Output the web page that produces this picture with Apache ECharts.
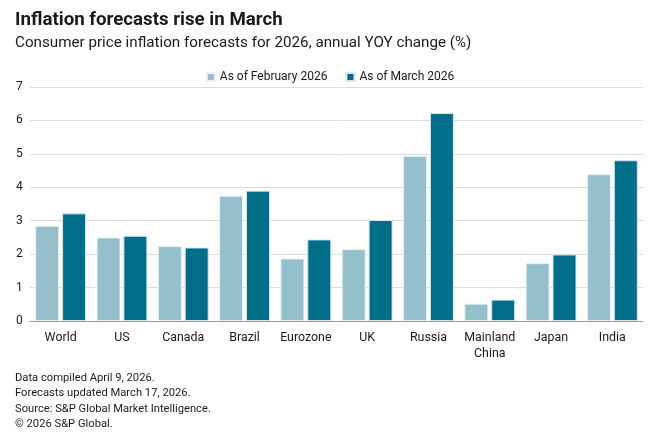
<!DOCTYPE html>
<html><head><meta charset="utf-8">
<script src="https://cdn.jsdelivr.net/npm/echarts@6/dist/echarts.min.js"></script>
<style>html,body{margin:0;padding:0;background:#fff}#c{width:660px;height:438px}</style>
</head><body><div id="c"></div>
<script>
const categories = ["World","US","Canada","Brazil","Eurozone","UK","Russia","Mainland\nChina","Japan","India"];
const febValues = [2.85,2.50,2.24,3.75,1.87,2.15,4.94,0.52,1.73,4.39];
const marValues = [3.22,2.55,2.20,3.90,2.44,3.02,6.22,0.64,1.99,4.81];
const seriesNames = ["As of February 2026","As of March 2026"];
const footnotes = ["Data compiled April 9, 2026.","Forecasts updated March 17, 2026.","Source: S&P Global Market Intelligence.","© 2026 S&P Global."];
const FONT = "Roboto";
const chart = echarts.init(document.getElementById('c'), null, {renderer:'canvas'});
chart.setOption({
  animation:false,
  textStyle:{fontFamily:FONT},
  title:[
    {text:"Inflation forecasts rise in March", left:10, top:6, textStyle:{fontFamily:FONT,fontSize:18.7,fontWeight:'bold',color:'#1a1a1a'}},
    {text:"Consumer price inflation forecasts for 2026, annual YOY change (%)", left:10, top:31, textStyle:{fontFamily:FONT,fontSize:15.2,fontWeight:'normal',color:'#1a1a1a'}},
    {text:footnotes.join("\n"), left:10, top:365, textStyle:{fontFamily:FONT,fontSize:11.2,fontWeight:'normal',color:'#1a1a1a',lineHeight:15.5}}
  ],
  legend:{top:66, left:'center', itemWidth:8, itemHeight:8, itemGap:18, icon:'rect',
    textStyle:{fontFamily:FONT,fontSize:12,color:'#1a1a1a'}, data:seriesNames},
  grid:{left:30, right:17, top:87, bottom:117},
  xAxis:{type:'category', data:categories,
    axisLine:{lineStyle:{color:'#999',width:1}}, axisTick:{show:false},
    axisLabel:{interval:0,fontFamily:FONT,fontSize:12.4,color:'#1a1a1a',margin:9,lineHeight:16}},
  yAxis:{type:'value', min:0, max:7, interval:1,
    axisLine:{show:false}, axisTick:{show:false},
    splitLine:{lineStyle:{color:'#dcdcdc',width:1}},
    axisLabel:{fontFamily:FONT,fontSize:12,color:'#1a1a1a',margin:14,align:'left'}},
  series:[
    {name:seriesNames[0], type:'bar', data:febValues, barWidth:24, barGap:'12%',
      itemStyle:{color:'#94BFCB', borderColor:'#e8f1f4', borderWidth:1}},
    {name:seriesNames[1], type:'bar', data:marValues, barWidth:24,
      itemStyle:{color:'#006E89', borderColor:'#d5e6ec', borderWidth:1}}
  ]
});
</script></body></html>
